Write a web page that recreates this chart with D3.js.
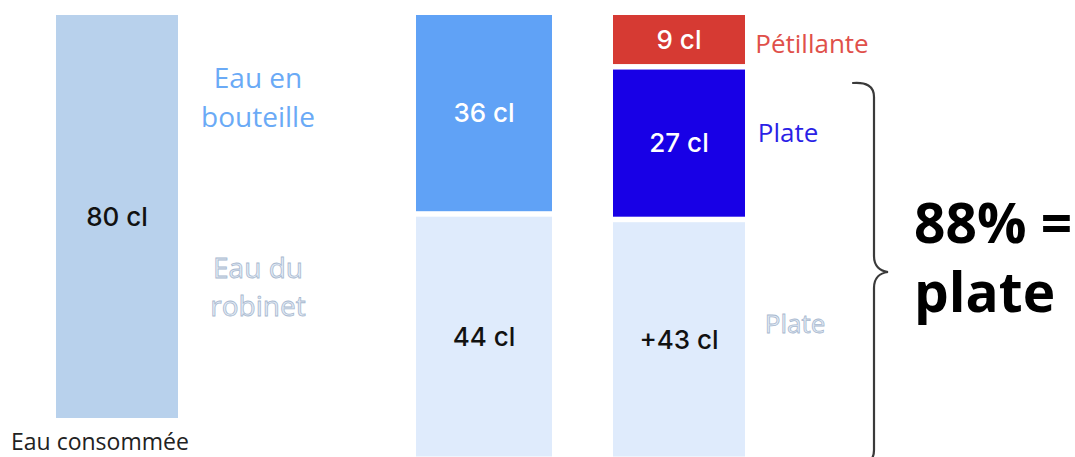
<!DOCTYPE html>
<html>
<head>
<meta charset="utf-8">
<script src="https://cdn.jsdelivr.net/npm/d3@7"></script>
<style>
  html, body { margin: 0; padding: 0; background: #fff; }
  svg { display: block; }
</style>
</head>
<body>
<div id="chart"></div>
<script>
// Daily water intake, broken down by origin and by type (centilitres)
const totalLabel = "Eau consommée";
const totalValues = [80];

const originKeys = ["Eau en bouteille", "Eau du robinet"];
const originValues = [36, 44];

const typeKeys = ["Pétillante", "Plate (bouteille)", "Plate (robinet)"];
const typeValues = [9, 27, 43];
const typePrefixes = ["", "", "+"];

const flatShareText = ["88% =", "plate"];

const W = 1075, H = 457;
const TOP = 15;
const GAP = 5.5;

const svg = d3.select("#chart").append("svg")
  .attr("width", W).attr("height", H)
  .attr("viewBox", `0 0 ${W} ${H}`);

const NUM_FONT = "Inter, 'Noto Sans', sans-serif";
const LABEL_FONT = "'Open Sans', 'Noto Sans', sans-serif";

// The total column is shorter to leave room for its caption underneath;
// the two breakdown columns run to the bottom edge.
const yTotal = d3.scaleLinear().domain([0, 80]).range([0, 403]);
const yDetail = d3.scaleLinear().domain([0, 80]).range([0, 436]);

// Column placement: left edge and width of each column
const xCol = d3.scaleOrdinal().domain(["total", "origin", "type"]).range([56, 416, 613]);
const wCol = d3.scaleOrdinal().domain(["total", "origin", "type"]).range([122, 136, 132]);

// Stack segments downward from the top, with a small white gap between them
function stackDown(values, scale) {
  let y = TOP;
  return values.map((v, i) => {
    const h = scale(v);
    const seg = { value: v, index: i, y0: y, h };
    y += h + GAP;
    return seg;
  });
}

function drawColumn(key, values, scale, colors, textColors, prefixes) {
  const segs = stackDown(values, scale);
  const g = svg.append("g").attr("class", "col-" + key);
  g.selectAll("rect").data(segs).join("rect")
    .attr("x", xCol(key))
    .attr("y", d => d.y0)
    .attr("width", wCol(key))
    .attr("height", d => d.h)
    .attr("fill", (d, i) => colors[i]);
  g.selectAll("text").data(segs).join("text")
    .attr("x", xCol(key) + wCol(key) / 2)
    .attr("y", d => d.y0 + d.h / 2)
    .attr("dy", "0.36em")
    .attr("text-anchor", "middle")
    .attr("font-family", NUM_FONT)
    .attr("font-size", 26)
    .attr("font-weight", 500)
    .attr("fill", (d, i) => textColors[i])
    .text((d, i) => (prefixes ? prefixes[i] : "") + d.value + " cl");
  return segs;
}

drawColumn("total", totalValues, yTotal, ["#b8d1ec"], ["#111"]);
drawColumn("origin", originValues, yDetail, ["#60a2f6", "#dfebfc"], ["#fff", "#111"]);
drawColumn("type", typeValues, yDetail, ["#d63a33", "#1800e6", "#dfebfc"], ["#fff", "#fff", "#111"], typePrefixes);

// Caption under the total column
svg.append("text")
  .attr("x", 11).attr("y", 450)
  .attr("font-family", LABEL_FONT)
  .attr("font-size", 23)
  .attr("fill", "#222")
  .text(totalLabel);

// Side annotations
function annot(lines, x, y, size, style, lineH) {
  const t = svg.append("text")
    .attr("x", x).attr("y", y)
    .attr("text-anchor", "middle")
    .attr("font-family", LABEL_FONT)
    .attr("font-size", size);
  Object.entries(style).forEach(([k, v]) => t.attr(k, v));
  lines.forEach((l, i) => {
    t.append("tspan").attr("x", x).attr("dy", i === 0 ? 0 : lineH).text(l);
  });
  return t;
}

const fadedStyle = { fill: "#e2ebf6", stroke: "#a9b9cf", "stroke-width": 0.8 };

annot(["Eau en", "bouteille"], 258, 88, 28, { fill: "#6aaaf6" }, 39);
annot(["Eau du", "robinet"], 258, 278, 28, fadedStyle, 38);

annot(["Pétillante"], 812, 53, 26, { fill: "#e0504a" }, 0);
annot(["Plate"], 788, 142, 26, { fill: "#2b1fe6" }, 0);
annot(["Plate"], 795, 333, 26, fadedStyle, 0);

// Curly brace grouping the two "plate" segments
const brace = d3.path();
brace.moveTo(853, 83);
brace.bezierCurveTo(866, 82, 874, 86, 874, 97);
brace.lineTo(874, 256);
brace.bezierCurveTo(874, 266, 880, 271, 888, 272);
brace.bezierCurveTo(880, 273, 874, 278, 874, 288);
brace.lineTo(874, 450);
brace.bezierCurveTo(874, 456, 872, 460, 868, 462);
svg.append("path")
  .attr("d", brace.toString())
  .attr("fill", "none")
  .attr("stroke", "#3a3a3a")
  .attr("stroke-width", 2.2)
  .attr("stroke-linecap", "round");

// Headline share of still water
const head = svg.append("text")
  .attr("font-family", LABEL_FONT)
  .attr("font-weight", 700)
  .attr("font-size", 55)
  .attr("fill", "#000");
flatShareText.forEach((l, i) => {
  head.append("tspan").attr("x", 914).attr("y", 243 + i * 69).text(l);
});
</script>
</body>
</html>
